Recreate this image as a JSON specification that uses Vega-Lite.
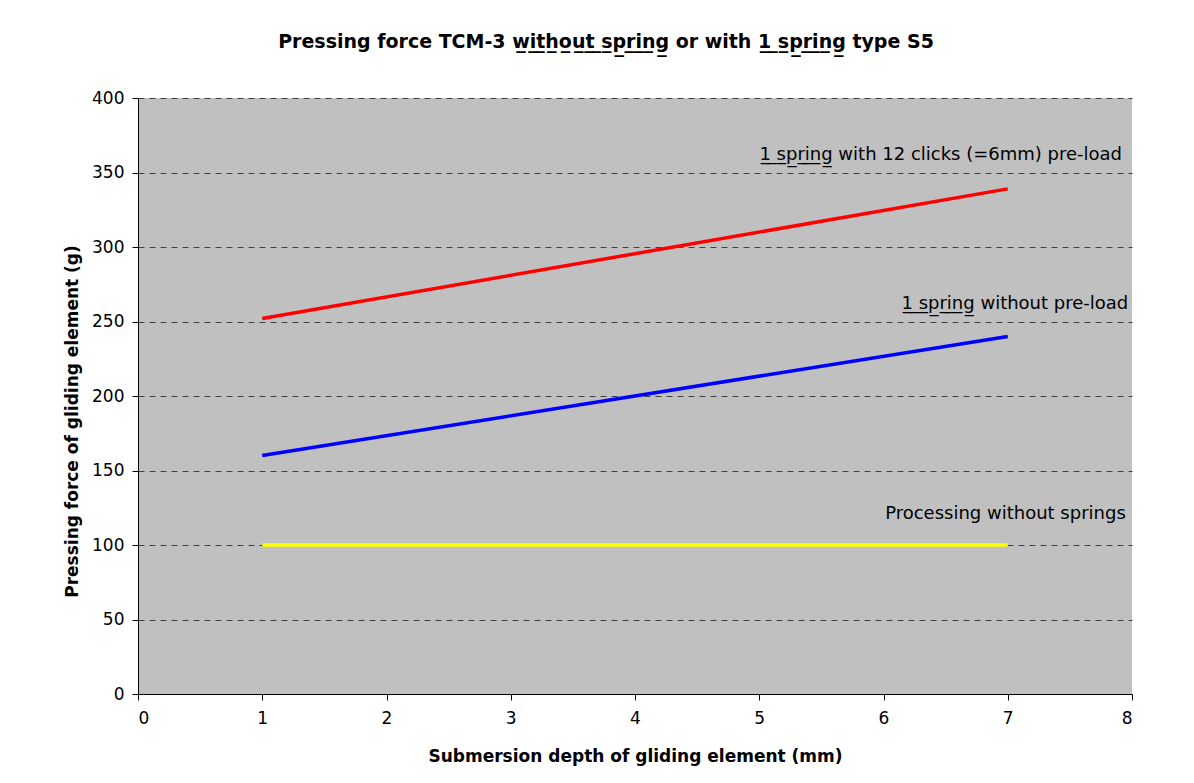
{
  "$schema": "https://vega.github.io/schema/vega-lite/v6.json",
  "width": 994,
  "height": 596,
  "autosize": {"type": "none"},
  "padding": {"left": 138, "top": 98, "right": 62, "bottom": 89},
  "background": "white",
  "title": {
    "text": "Pressing force TCM-3 w̲i̲t̲h̲o̲u̲t̲ ̲s̲p̲r̲i̲n̲g̲ or with 1̲ ̲s̲p̲r̲i̲n̲g̲ type S5",
    "font": "DejaVu Sans",
    "fontSize": 19,
    "fontWeight": "bold",
    "color": "black",
    "anchor": "middle",
    "dx": -29,
    "offset": 37
  },
  "config": {
    "view": {"stroke": null, "fill": "#C0C0C0"},
    "font": "DejaVu Sans"
  },
  "datasets": {
    "lines": [
      {"series": "1 spring with 12 clicks (=6mm) pre-load", "depth": 1, "force": 252},
      {"series": "1 spring with 12 clicks (=6mm) pre-load", "depth": 7, "force": 339},
      {"series": "1 spring without pre-load", "depth": 1, "force": 160},
      {"series": "1 spring without pre-load", "depth": 7, "force": 240},
      {"series": "Processing without springs", "depth": 1, "force": 100},
      {"series": "Processing without springs", "depth": 7, "force": 100}
    ],
    "labels": [
      {"label": "1̲ ̲s̲p̲r̲i̲n̲g̲ with 12 clicks (=6mm) pre-load", "depth": 7.92, "force": 362},
      {"label": "1̲ ̲s̲p̲r̲i̲n̲g̲ without pre-load", "depth": 7.97, "force": 262},
      {"label": "Processing without springs", "depth": 7.95, "force": 121}
    ]
  },
  "layer": [
    {
      "data": {"name": "lines"},
      "mark": {"type": "line", "strokeWidth": 3.5},
      "encoding": {
        "x": {
          "field": "depth", "type": "quantitative",
          "scale": {"domain": [0, 8], "nice": false},
          "axis": {
            "title": "Submersion depth of gliding element (mm)",
            "values": [0, 1, 2, 3, 4, 5, 6, 7, 8],
            "format": "d",
            "grid": false,
            "domainColor": "black", "domainWidth": 1,
            "tickColor": "black", "tickSize": 6,
            "labelFontSize": 17, "labelColor": "black", "labelPadding": 10,
            "titleFontSize": 17, "titleFontWeight": "bold", "titleColor": "black", "titlePadding": 22
          }
        },
        "y": {
          "field": "force", "type": "quantitative",
          "scale": {"domain": [0, 400], "nice": false},
          "axis": {
            "title": "Pressing force of gliding element (g)",
            "values": [0, 50, 100, 150, 200, 250, 300, 350, 400],
            "grid": true, "gridColor": "#404040", "gridDash": [6, 5], "gridWidth": 1,
            "domainColor": "black", "domainWidth": 1,
            "tickColor": "black", "tickSize": 6,
            "labelFontSize": 17, "labelColor": "black", "labelPadding": 8,
            "titleFontSize": 17, "titleFontWeight": "bold", "titleColor": "black", "titlePadding": 10,
            "titleY": 323
          }
        },
        "color": {
          "field": "series", "type": "nominal",
          "scale": {
            "domain": ["1 spring with 12 clicks (=6mm) pre-load", "1 spring without pre-load", "Processing without springs"],
            "range": ["#FF0000", "#0000FF", "#FFFF00"]
          },
          "legend": null
        }
      }
    },
    {
      "data": {"name": "labels"},
      "mark": {"type": "text", "align": "right", "baseline": "middle", "fontSize": 18, "color": "black", "font": "DejaVu Sans"},
      "encoding": {
        "x": {"field": "depth", "type": "quantitative"},
        "y": {"field": "force", "type": "quantitative"},
        "text": {"field": "label"}
      }
    }
  ]
}
